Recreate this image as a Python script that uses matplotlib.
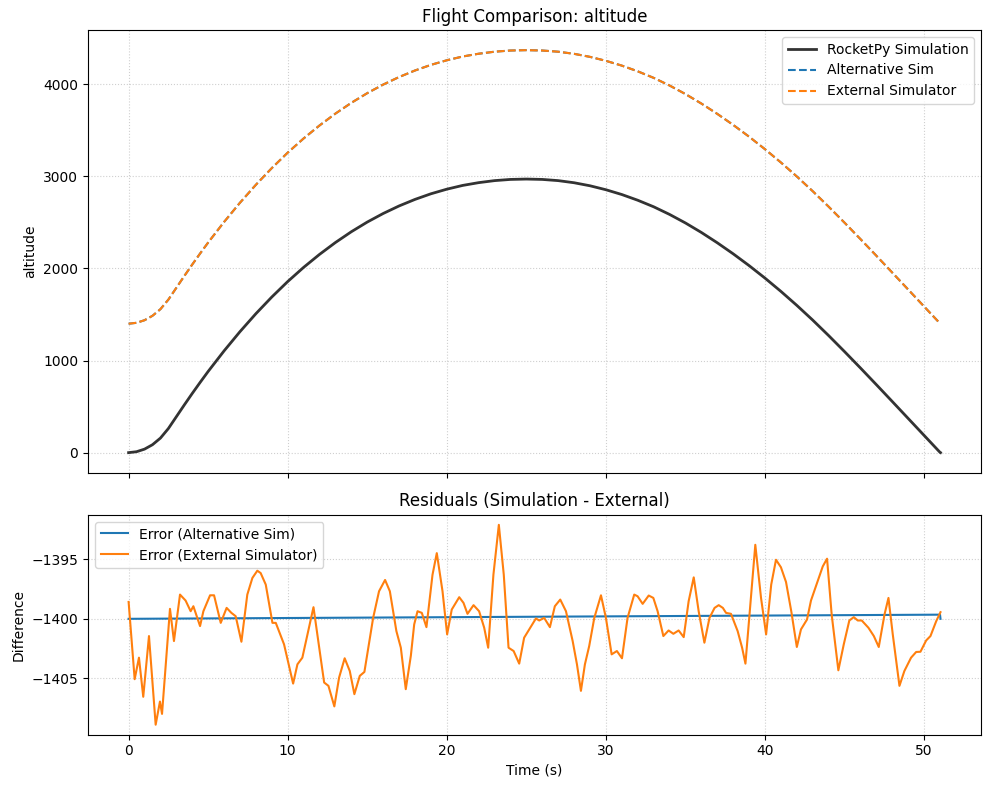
import numpy as np
import matplotlib
matplotlib.use("Agg")
import matplotlib.pyplot as plt

# RocketPy altitude
t_rocket = [0, 0.5, 1, 1.5, 2, 2.5, 3, 3.5, 4, 4.5, 5, 6, 7, 8, 9, 10, 11, 12, 13, 14,
            15, 16, 17, 18, 19, 20, 21, 22, 23, 24, 25, 26, 27, 28, 29, 30, 31, 32,
            33, 34, 35, 36, 37, 38, 39, 40, 41, 42, 43, 44, 45, 46, 47, 48, 49, 50,
            51, 51.03]
alt_rocket = [0, 10, 38, 86, 158, 262, 390, 518, 643, 764, 882, 1105, 1314, 1509,
              1690, 1858, 2012, 2153, 2282, 2399, 2504, 2597, 2679, 2750, 2811, 2861,
              2902, 2932, 2954, 2967, 2971, 2967, 2954, 2931, 2898, 2855, 2803, 2741,
              2670, 2587, 2494, 2391, 2279, 2159, 2031, 1895, 1751, 1599, 1439, 1271,
              1097, 919, 738, 555, 371, 187, 3, 0]

# offset of the two external curves against RocketPy (m)
offset_ext = 1400.0

# residual of the external simulator
t_err = [0.0, 0.38, 0.65, 0.92, 1.28, 1.70, 1.97, 2.10, 2.60, 2.85, 3.23, 3.58,
         3.90, 4.07, 4.49, 4.70, 5.12, 5.37, 5.79, 6.16, 6.46, 6.73, 7.09, 7.46,
         7.78, 8.09, 8.30, 8.62, 9.04, 9.25, 9.77, 10.34, 10.61, 10.92, 11.62,
         12.29, 12.56, 12.93, 13.23, 13.58, 13.90, 14.19, 14.53, 14.82, 15.37,
         15.74, 16.12, 16.42, 16.83, 17.11, 17.42, 17.74, 17.95, 18.16, 18.43,
         18.72, 19.10, 19.37, 19.73, 20.02, 20.31, 20.78, 21.05, 21.30, 21.68,
         22.03, 22.35, 22.60, 22.93, 23.27, 23.58, 23.88, 24.20, 24.55, 24.86,
         25.18, 25.60, 25.81, 26.12, 26.48, 26.79, 27.13, 27.49, 27.91, 28.18,
         28.43, 28.68, 28.95, 29.27, 29.69, 30.00, 30.36, 30.69, 31.01, 31.36,
         31.78, 31.99, 32.31, 32.69, 32.98, 33.25, 33.61, 33.94, 34.24, 34.57,
         34.89, 35.20, 35.52, 35.83, 36.19, 36.51, 36.83, 37.09, 37.35, 37.55,
         37.86, 38.28, 38.56, 38.77, 39.02, 39.39, 39.75, 40.07, 40.39, 40.69,
         41.00, 41.32, 41.65, 42.00, 42.26, 42.64, 42.89, 43.27, 43.63, 43.90,
         44.19, 44.61, 44.95, 45.30, 45.58, 45.83, 46.08, 46.50, 46.84, 47.15,
         47.51, 47.76, 48.03, 48.45, 48.76, 49.18, 49.50, 49.77, 50.13, 50.40,
         50.76, 51.03]
err_ext = [-1398.58, -1405.08, -1403.27, -1406.56, -1401.45, -1408.91, -1406.96,
           -1408.00, -1399.16, -1401.87, -1397.96, -1398.46, -1399.36, -1398.94,
           -1400.61, -1399.36, -1398.02, -1398.02, -1400.34, -1399.08, -1399.50,
           -1399.78, -1401.93, -1397.96, -1396.56, -1395.95, -1396.15, -1397.12,
           -1400.34, -1400.34, -1402.15, -1405.45, -1403.83, -1403.27, -1399.02,
           -1405.36, -1405.64, -1407.37, -1404.94, -1403.32, -1404.39, -1406.34,
           -1404.80, -1404.47, -1399.92, -1397.68, -1396.73, -1397.68, -1401.03,
           -1402.43, -1405.92, -1403.10, -1400.47, -1399.36, -1399.50, -1400.70,
           -1396.30, -1394.47, -1397.68, -1401.31, -1399.22, -1398.18, -1398.66,
           -1399.58, -1398.85, -1399.36, -1400.75, -1402.43, -1396.28, -1392.09,
           -1396.28, -1402.43, -1402.71, -1403.77, -1401.59, -1400.89, -1399.97,
           -1400.14, -1399.92, -1400.70, -1398.94, -1398.38, -1399.36, -1401.87,
           -1403.83, -1406.06, -1403.83, -1402.29, -1399.92, -1398.02, -1399.92,
           -1402.99, -1402.71, -1403.32, -1399.92, -1397.96, -1398.10, -1398.74,
           -1398.04, -1398.24, -1399.36, -1401.45, -1400.98, -1401.26, -1400.98,
           -1401.54, -1398.52, -1396.51, -1399.36, -1402.01, -1399.92, -1399.08,
           -1398.85, -1399.08, -1399.50, -1399.58, -1401.03, -1402.43, -1403.77,
           -1399.78, -1393.77, -1398.24, -1401.31, -1397.12, -1395.03, -1395.66,
           -1396.90, -1399.36, -1402.37, -1400.89, -1400.06, -1398.46, -1396.98,
           -1395.59, -1394.94, -1399.64, -1404.33, -1402.15, -1400.14, -1399.86,
           -1400.14, -1400.14, -1400.75, -1401.45, -1402.37, -1399.64, -1398.24,
           -1401.31, -1405.64, -1404.39, -1403.27, -1402.79, -1402.77, -1401.82,
           -1401.45, -1400.20, -1399.44]

# residual of the alternative sim (nearly flat)
t_err_alt = [0.0, 51.0, 51.03]
err_alt = [-1400.0, -1399.65, -1400.0]

t_rocket = np.array(t_rocket)
alt_rocket = np.array(alt_rocket)
alt_alt = alt_rocket + offset_ext
alt_ext = alt_rocket + offset_ext

fig, (ax1, ax2) = plt.subplots(2, 1, figsize=(9.89, 7.9), dpi=100, sharex=True,
                               gridspec_kw={'height_ratios': [443, 220]})
fig.subplots_adjust(left=0.089, right=0.992, top=0.962, bottom=0.070, hspace=0.127)

ax1.plot(t_rocket, alt_rocket, color='#333333', lw=2, label='RocketPy Simulation')
ax1.plot(t_rocket, alt_alt, '--', color='tab:blue', lw=1.5, label='Alternative Sim')
ax1.plot(t_rocket, alt_ext, '--', color='tab:orange', lw=1.5, label='External Simulator')
ax1.set_title('Flight Comparison: altitude')
ax1.set_ylabel('altitude')
ax1.legend(loc='upper right')
ax1.grid(True, linestyle=':', alpha=0.6)

ax2.plot(t_err_alt, err_alt, color='tab:blue', lw=1.5, label='Error (Alternative Sim)')
ax2.plot(t_err, err_ext, color='tab:orange', lw=1.5, label='Error (External Simulator)')
ax2.set_title('Residuals (Simulation - External)')
ax2.set_ylabel('Difference')
ax2.set_xlabel('Time (s)')
ax2.legend(loc='upper left')
ax2.grid(True, linestyle=':', alpha=0.6)

plt.savefig('out.png', dpi=100)
